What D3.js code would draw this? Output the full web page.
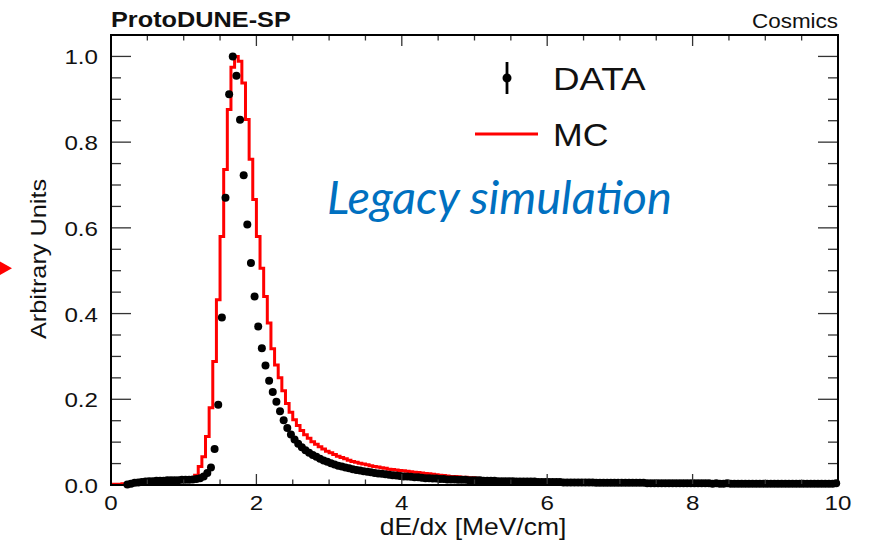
<!DOCTYPE html>
<html>
<head>
<meta charset="utf-8">
<script src="https://cdn.jsdelivr.net/npm/d3@7"></script>
<style>
  body { margin: 0; background: #fff; }
  svg { display: block; }
</style>
</head>
<body>
<svg width="874" height="544"></svg>
<script>
// dE/dx, 0.05 MeV/cm bins starting at 0
var binWidth = 0.05;

// MC histogram (red), one value per bin from 0.00 to 10.00
var mcValues = [
  0.002,0.002,0.002,0.003,0.003,0.004,0.005,0.005,0.006,0.006,0.007,0.007,0.008,0.008,0.008,0.009,0.009,0.009,0.010,0.010,
  0.011,0.012,0.014,0.023,0.043,0.066,0.113,0.180,0.288,0.432,0.580,0.736,0.876,0.975,1.000,0.989,0.938,0.853,0.760,0.666,
  0.580,0.506,0.440,0.378,0.318,0.280,0.250,0.220,0.190,0.170,0.152,0.139,0.127,0.117,0.109,0.101,0.095,0.089,0.084,0.079,
  0.075,0.071,0.067,0.064,0.061,0.058,0.055,0.053,0.051,0.049,0.047,0.045,0.043,0.042,0.040,0.039,0.037,0.036,0.035,0.034,
  0.033,0.032,0.031,0.030,0.029,0.028,0.027,0.026,0.025,0.024,0.023,0.022,0.021,0.020,0.020,0.019,0.018,0.018,0.017,0.017,
  0.016,0.015,0.015,0.014,0.014,0.013,0.013,0.012,0.012,0.012,0.011,0.011,0.011,0.010,0.010,0.010,0.010,0.009,0.009,0.009,
  0.009,0.009,0.008,0.008,0.008,0.008,0.008,0.008,0.007,0.007,0.007,0.007,0.007,0.007,0.007,0.006,0.006,0.006,0.006,0.006,
  0.006,0.006,0.006,0.006,0.006,0.005,0.005,0.005,0.005,0.005,0.005,0.005,0.005,0.005,0.005,0.005,0.005,0.005,0.004,0.004,
  0.005,0.004,0.004,0.004,0.004,0.004,0.004,0.004,0.004,0.004,0.004,0.004,0.004,0.004,0.004,0.004,0.004,0.004,0.004,0.004,
  0.004,0.004,0.004,0.004,0.004,0.004,0.003,0.004,0.003,0.003,0.003,0.003,0.003,0.003,0.003,0.003,0.003,0.003,0.003,0.003
];

// DATA points (black), first filled bin starts at 0.20
var dataStart = 0.20;
var dataValues = [
  0.001,0.003,0.005,0.006,0.007,0.008,0.009,0.009,0.010,0.010,0.010,0.011,0.011,0.011,0.011,0.012,
  0.012,0.012,0.013,0.014,0.016,0.020,0.028,0.041,0.084,0.187,0.391,0.670,0.912,1.000,0.955,0.852,0.723,0.608,0.518,0.440,
  0.370,0.319,0.279,0.243,0.217,0.194,0.172,0.151,0.133,0.118,0.106,0.096,0.088,0.081,0.075,0.070,0.066,0.061,0.057,0.054,
  0.051,0.048,0.045,0.043,0.041,0.039,0.037,0.035,0.034,0.032,0.031,0.030,0.028,0.027,0.026,0.025,0.024,0.023,0.022,0.021,
  0.020,0.020,0.019,0.018,0.018,0.017,0.016,0.016,0.015,0.015,0.014,0.014,0.013,0.013,0.013,0.012,0.012,0.012,0.011,0.011,
  0.011,0.011,0.010,0.010,0.010,0.010,0.009,0.009,0.009,0.009,0.009,0.008,0.008,0.008,0.008,0.008,0.008,0.007,0.007,0.007,
  0.007,0.007,0.007,0.007,0.006,0.006,0.006,0.006,0.006,0.006,0.006,0.006,0.006,0.005,0.005,0.005,0.005,0.005,0.005,0.005,
  0.005,0.005,0.005,0.005,0.005,0.005,0.005,0.004,0.004,0.004,0.004,0.004,0.004,0.004,0.004,0.004,0.004,0.004,0.004,0.004,
  0.004,0.004,0.004,0.004,0.004,0.003,0.004,0.003,0.003,0.004,0.003,0.003,0.003,0.003,0.003,0.003,0.003,0.003,0.003,0.003,
  0.003,0.003,0.003,0.003,0.003,0.003,0.003,0.003,0.003,0.003,0.003,0.003,0.003,0.003,0.003,0.003,0.003,0.003,0.003,0.004
];

var xMajor = [0, 2, 4, 6, 8, 10];
var yMajor = [0.0, 0.2, 0.4, 0.6, 0.8, 1.0];

var svg = d3.select("svg");
var font = "'Liberation Sans', Arial, Helvetica, sans-serif";
var sx = 1.15; // the ROOT text is drawn a bit wide

var x = d3.scaleLinear().domain([0, 10]).range([111, 838]);
var y = d3.scaleLinear().domain([0, 1.05]).range([485, 35]);

function txt(str, px, py, size, anchor, rot, weight) {
  return svg.append("text")
    .attr("transform", "translate(" + px + "," + py + ")" + (rot ? " rotate(" + rot + ")" : "") + " scale(" + sx + ",1)")
    .attr("text-anchor", anchor)
    .attr("font-family", font)
    .attr("font-size", size)
    .attr("font-weight", weight || "normal")
    .attr("fill", "#111")
    .text(str);
}

// MC histogram as a step line
var mcPts = mcValues.map(function(v, i) { return [i * binWidth, v]; });
mcPts.push([mcValues.length * binWidth, mcValues[mcValues.length - 1]]);
var step = d3.line()
  .x(function(d) { return x(d[0]); })
  .y(function(d) { return y(d[1]); })
  .curve(d3.curveStepAfter);

svg.append("path")
  .datum(mcPts)
  .attr("d", step)
  .attr("fill", "none")
  .attr("stroke", "#ff0000")
  .attr("stroke-width", 3);

// data points
svg.append("g").selectAll("circle")
  .data(dataValues)
  .enter().append("circle")
  .attr("cx", function(d, i) { return x(dataStart + (i + 0.5) * binWidth); })
  .attr("cy", function(d) { return y(d); })
  .attr("r", 4)
  .attr("fill", "#000");

// axes: ticks on all four sides, pointing inward
var ax = svg.append("g").attr("stroke", "#333").attr("stroke-width", 1.3);
var xMinor = d3.range(0, 10.001, 0.5);
var yMinor = d3.range(0, 1.0501, 0.05);
xMinor.forEach(function(t) {
  var big = xMajor.indexOf(Math.round(t * 10) / 10) >= 0;
  var len = big ? 11 : 5.5;
  ax.append("line").attr("x1", x(t)).attr("x2", x(t)).attr("y1", y(0)).attr("y2", y(0) - len);
  ax.append("line").attr("x1", x(t)).attr("x2", x(t)).attr("y1", y(1.05)).attr("y2", y(1.05) + len);
});
yMinor.forEach(function(t) {
  var r = Math.round(t * 100) / 100;
  var big = yMajor.some(function(m) { return Math.abs(m - r) < 1e-6; });
  var len = big ? 20 : 10;
  ax.append("line").attr("x1", x(0)).attr("x2", x(0) + len).attr("y1", y(t)).attr("y2", y(t));
  ax.append("line").attr("x1", x(10)).attr("x2", x(10) - len).attr("y1", y(t)).attr("y2", y(t));
});

svg.append("rect")
  .attr("x", x(0)).attr("y", y(1.05))
  .attr("width", x(10) - x(0)).attr("height", y(0) - y(1.05))
  .attr("fill", "none").attr("stroke", "#000").attr("stroke-width", 2);

// tick labels
xMajor.forEach(function(t) { txt(String(t), x(t), 510, 21, "middle"); });
yMajor.forEach(function(t) { txt(t.toFixed(1), 98, y(t) + 8, 21, "end"); });

// axis titles
txt("dE/dx [MeV/cm]", 473, 535, 23, "middle");
txt("Arbitrary Units", 46, 259, 22, "middle", -90);

// header
txt("ProtoDUNE-SP", 111, 27, 22, "start", 0, "bold");
txt("Cosmics", 838, 28, 19.5, "end");

// legend
var lg = svg.append("g");
lg.append("line").attr("x1", 507).attr("x2", 507).attr("y1", 62).attr("y2", 94)
  .attr("stroke", "#000").attr("stroke-width", 2.8);
lg.append("circle").attr("cx", 507).attr("cy", 78).attr("r", 4.5).attr("fill", "#000");
txt("DATA", 553, 90, 32, "start");
lg.append("line").attr("x1", 475).attr("x2", 538).attr("y1", 134).attr("y2", 134)
  .attr("stroke", "#ff0000").attr("stroke-width", 3);
txt("MC", 553, 146, 31, "start");

// slide annotation
var leg = svg.append("text")
  .attr("x", 327).attr("y", 214)
  .attr("font-family", "Lato, 'Open Sans', sans-serif")
  .attr("font-style", "italic")
  .attr("font-size", 36)
  .attr("fill", "#0070c0")
  .text("Legacy simulation");
var L = leg.node().getComputedTextLength();
leg.attr("font-size", 36 * 345 / L);

// red pointer at the left edge of the slide
svg.append("path")
  .attr("d", "M0,261.5L12,268.3L0,275Z")
  .attr("fill", "#ff0000");
</script>
</body>
</html>
